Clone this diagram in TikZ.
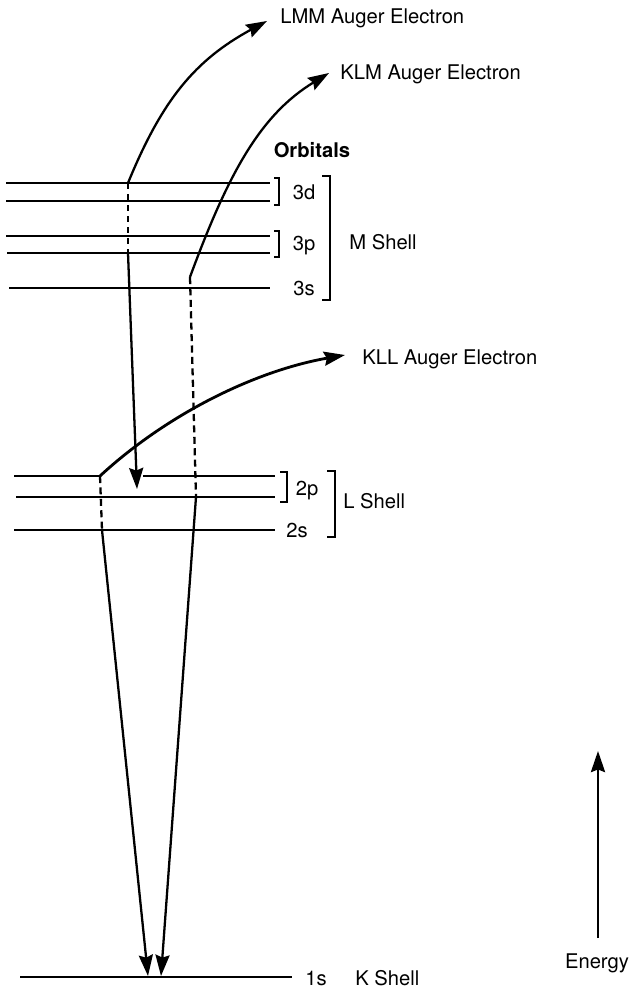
\documentclass[tikz,border=0pt]{standalone}
\usepackage{fontspec}
\setmainfont{TeX Gyre Heros}
\usetikzlibrary{arrows.meta}

\begin{document}
\begin{tikzpicture}[
  x=0.02cm, y=-0.02cm,
  >={Stealth[length=12pt,width=8pt,inset=1.5pt]},
  level/.style={line width=1.4pt},
  brak/.style={line width=0.7pt},
  elec/.style={line width=1.3pt, ->},
  vac/.style={line width=1.3pt, dash pattern=on 4pt off 2.5pt},
  lbl/.style={inner sep=0pt, font=\fontsize{11.5pt}{13pt}\selectfont}
]
\useasboundingbox (0,0) rectangle (633,987);

\draw[level] (6,183) -- (270,183);
\draw[level] (6,201) -- (270,201);
\draw[level] (6,236) -- (270,236);
\draw[level] (7,253) -- (270,253);
\draw[level] (9,288) -- (270,288);
\draw[level] (14,476) -- (100,476);
\draw[level] (143,476) -- (275,476);
\draw[level] (16,497) -- (275,497);
\draw[level] (14,530) -- (275,530);
\draw[level, line width=1.6pt] (20,977) -- (292,977);

\draw[brak] (274,178) -- (279,178) -- (279,205) -- (274,205);
\draw[brak] (274,231) -- (279,231) -- (279,257) -- (274,257);
\draw[brak] (280,472) -- (287,472) -- (287,502) -- (280,502);
\draw[brak] (322,176) -- (330,176) -- (330,300) -- (322,300);
\draw[brak] (327,471) -- (335,471) -- (335,537) -- (327,537);

\node[lbl, font=\bfseries\fontsize{11.5pt}{13pt}\selectfont, anchor=base] (orb) at (312,157) {Orbitals};
\node[lbl, anchor=base] (n3d) at (304,199) {3d};
\node[lbl, anchor=base] (n3p) at (304,250) {3p};
\node[lbl, anchor=base] (n3s) at (304,295) {3s};
\node[lbl, anchor=base west] (mshell) at (349,249) {M Shell};
\node[lbl, anchor=base] (n2p) at (307,495) {2p};
\node[lbl, anchor=base] (n2s) at (297,537) {2s};
\node[lbl, anchor=base west] (lshell) at (343,508) {L Shell};
\node[lbl, anchor=base] (n1s) at (316,985) {1s};
\node[lbl, anchor=base west] (kshell) at (355,985) {K Shell};
\node[lbl, anchor=base west] (lmm) at (280,23) {LMM Auger Electron};
\node[lbl, anchor=base west] (klm) at (340,79) {KLM Auger Electron};
\node[lbl, anchor=base west] (kll) at (362,364) {KLL Auger Electron};
\node[lbl, anchor=base] (energy) at (597,968) {Energy};

\coordinate (lmmA) at (128,183);
\coordinate (lmmB) at (128,253);
\coordinate (lmmC) at (137,489);
\coordinate (lmmE) at (267,21);
\coordinate (klmA) at (190,277);
\coordinate (klmB) at (196,497);
\coordinate (klmE) at (329,73);
\coordinate (kllA) at (100,476);
\coordinate (kllB) at (102,530);
\coordinate (kllE) at (345,355);
\coordinate (kL) at (148,976);
\coordinate (kR) at (161,976);
\coordinate (eA) at (598,938);
\coordinate (eB) at (598,751);

\draw[elec] (lmmA) .. controls (162,100) and (195,60) .. (lmmE);
\draw[vac, dash pattern=on 3.5pt off 2.8pt] (lmmA) -- (lmmB);
\draw[elec] (lmmB) -- (lmmC);
\draw[elec] (klmA) .. controls (228,174) and (260,115) .. (klmE);
\draw[vac] (klmA) -- (klmB);
\draw[elec] (klmB) -- (kR);
\draw[elec, line width=1.6pt] (kllA) .. controls (166,415) and (254,371) .. (kllE);
\draw[vac] (kllA) -- (kllB);
\draw[elec] (kllB) -- (kL);
\draw[elec, line width=1.5pt] (eA) -- (eB);
\end{tikzpicture}
\end{document}
